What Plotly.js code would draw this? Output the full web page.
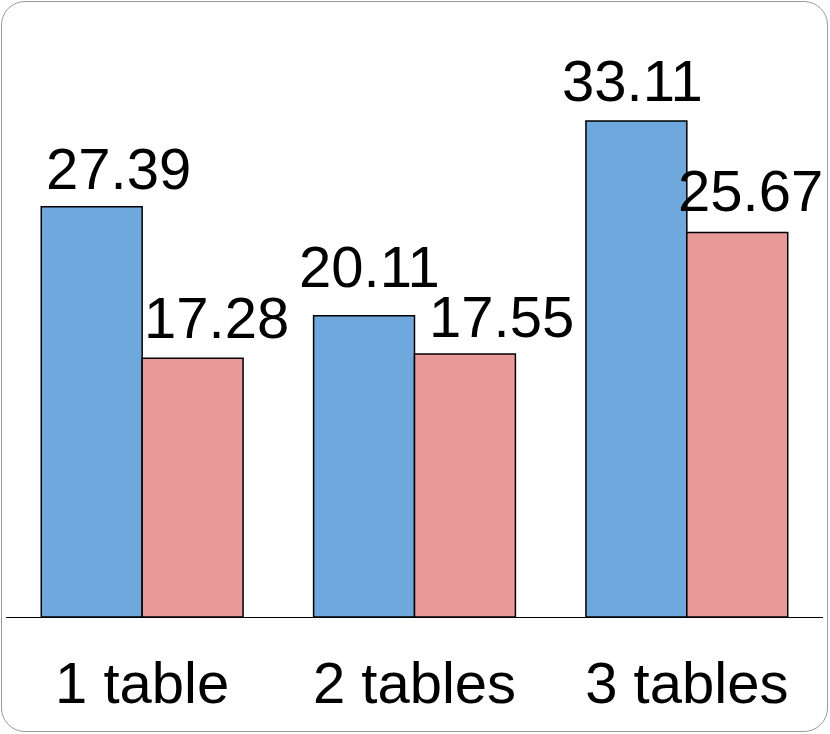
<!DOCTYPE html>
<html>
<head>
<meta charset="utf-8">
<script src="https://cdn.plot.ly/plotly-3.0.1.min.js"></script>
<style>
  body{margin:0;padding:0;background:#fff;}
  #wrap{position:relative;width:830px;height:734px;}
  #chart{position:absolute;left:0;top:0;width:830px;height:734px;}
  #frame{position:absolute;left:1px;top:1px;width:825px;height:729px;border:1.5px solid #9a9a9a;border-radius:24px;pointer-events:none;}
</style>
</head>
<body>
<div id="wrap">
  <div id="chart"></div>
  <div id="frame"></div>
</div>
<script>
let categories=['1 table','2 tables','3 tables'];
let seriesA=[27.39,20.11,33.11];
let seriesB=[17.28,17.55,25.67];

// label nudges in px (labels are not centred on bars in the original)
let shiftA=[[27,4],[5,15],[-4,6]];
let shiftB=[[24,6],[37,3],[13,7]];

let traceA={
  x:categories,
  y:seriesA,
  type:'bar',
  marker:{color:'#6fa8dc',line:{color:'#000',width:1.5}},
  hoverinfo:'none'
};
let traceB={
  x:categories,
  y:seriesB,
  type:'bar',
  marker:{color:'#ea9999',line:{color:'#000',width:1.5}},
  hoverinfo:'none'
};

let notes=[];
function addNotes(vals,shifts,xoff){
  for(let i=0;i<vals.length;i++){
    notes.push({
      x:i+xoff,
      y:vals[i],
      xref:'x',
      yref:'y',
      text:vals[i].toFixed(2),
      showarrow:false,
      xanchor:'center',
      yanchor:'bottom',
      xshift:shifts[i][0],
      yshift:shifts[i][1],
      font:{family:'Liberation Sans, Arial',size:58,color:'#000'}
    });
  }
}
addNotes(seriesA,shiftA,-0.185);
addNotes(seriesB,shiftB,0.185);

let layout={
  width:830,
  height:734,
  margin:{l:6,r:7,t:20,b:117},
  paper_bgcolor:'rgba(0,0,0,0)',
  plot_bgcolor:'rgba(0,0,0,0)',
  barmode:'group',
  bargap:0.259,
  bargroupgap:0,
  showlegend:false,
  xaxis:{
    type:'category',
    range:[-0.5,2.5],
    showline:true,
    linecolor:'#000',
    linewidth:1,
    ticks:'',
    ticklabelstandoff:15,
    showgrid:false,
    zeroline:false,
    tickfont:{family:'Liberation Sans, Arial',size:58,color:'#000'}
  },
  yaxis:{
    range:[0,39.85],
    visible:false,
    showgrid:false,
    zeroline:false
  },
  annotations:notes
};

Plotly.newPlot('chart',[traceA,traceB],layout,{staticPlot:true});
</script>
</body>
</html>
